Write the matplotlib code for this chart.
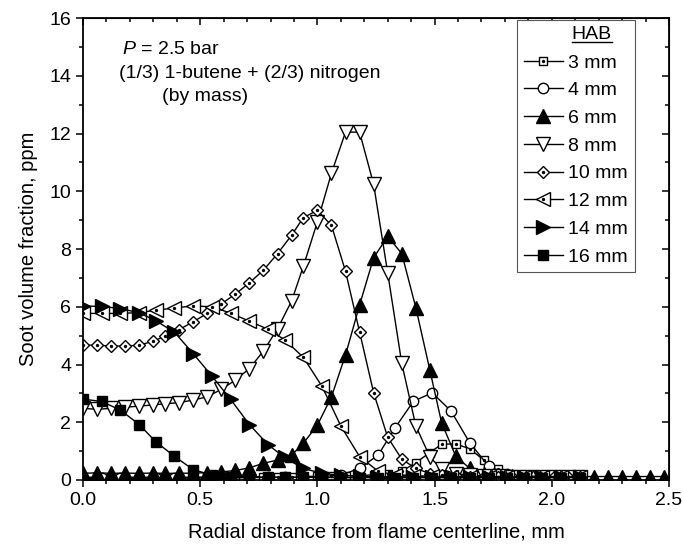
#!/usr/bin/env python3
"""Soot volume fraction radial profiles at several heights above burner (HAB)."""

from __future__ import annotations

import matplotlib

matplotlib.use("Agg")
import matplotlib.pyplot as plt
from matplotlib.lines import Line2D
from matplotlib.ticker import MultipleLocator

r_fine = [
    0.00, 0.06, 0.12, 0.18, 0.24, 0.30, 0.35, 0.41, 0.47, 0.53, 0.59, 0.65, 0.71,
    0.77, 0.83, 0.89, 0.94, 1.00, 1.06, 1.12, 1.18, 1.24, 1.30, 1.36, 1.42, 1.48,
    1.53, 1.59, 1.65, 1.71, 1.77, 1.83, 1.89, 1.95, 2.01, 2.07, 2.12, 2.18, 2.24,
    2.30, 2.36, 2.42, 2.48,
]
r_coarse = [
    0.00, 0.08, 0.16, 0.24, 0.31, 0.39, 0.47, 0.55, 0.63, 0.71, 0.79, 0.86, 0.94,
    1.02, 1.10, 1.18, 1.26, 1.33, 1.41, 1.49, 1.57, 1.65, 1.73, 1.81, 1.88, 1.96,
    2.04, 2.12,
]

# soot volume fraction (ppm)
fv_3mm = [
    0.10, 0.09, 0.10, 0.10, 0.09, 0.10, 0.10, 0.09, 0.10, 0.10, 0.10, 0.11, 0.11,
    0.12, 0.12, 0.12, 0.12, 0.13, 0.13, 0.14, 0.15, 0.18, 0.22, 0.30, 0.60, 0.95,
    1.24, 1.25, 1.08, 0.69, 0.37, 0.18, 0.12, 0.10, 0.10, 0.10, 0.10,
]
fv_4mm = [
    0.06, 0.06, 0.06, 0.06, 0.07, 0.07, 0.07, 0.08, 0.08, 0.08, 0.09, 0.09, 0.10,
    0.12, 0.17, 0.40, 0.87, 1.79, 2.73, 3.02, 2.39, 1.29, 0.48, 0.20, 0.12, 0.10,
    0.08, 0.08,
]
fv_6mm = [
    0.23, 0.25, 0.23, 0.24, 0.23, 0.24, 0.23, 0.23, 0.24, 0.25, 0.28, 0.33, 0.42,
    0.58, 0.69, 0.86, 1.27, 1.90, 2.88, 4.33, 6.06, 7.70, 8.44, 7.84, 5.97, 3.80,
    1.98, 0.83, 0.40, 0.22, 0.15, 0.13, 0.12, 0.12, 0.12, 0.12, 0.12, 0.12, 0.12,
    0.12, 0.12, 0.12, 0.12,
]
fv_8mm = [
    2.48, 2.45, 2.48, 2.52, 2.56, 2.60, 2.64, 2.68, 2.77, 2.88, 3.14, 3.46, 3.86,
    4.47, 5.24, 6.20, 7.40, 8.94, 10.63, 12.05, 12.05, 10.24, 7.17, 4.04, 1.87,
    0.80, 0.37, 0.22, 0.16, 0.14, 0.13, 0.12, 0.12, 0.12, 0.12, 0.12, 0.12,
]
fv_10mm = [
    4.67, 4.67, 4.64, 4.64, 4.67, 4.81, 4.98, 5.21, 5.48, 5.77, 6.10, 6.44, 6.83,
    7.27, 7.84, 8.48, 9.09, 9.34, 8.82, 7.23, 5.13, 3.02, 1.48, 0.72, 0.40, 0.22,
    0.16, 0.14, 0.12, 0.12, 0.12, 0.12, 0.12, 0.12, 0.12, 0.12, 0.12,
]
fv_12mm = [
    5.77, 5.77, 5.77, 5.80, 5.88, 5.96, 6.03, 6.00, 5.78, 5.50, 5.22, 4.86, 4.25,
    3.24, 1.87, 0.81, 0.30, 0.18, 0.15, 0.13, 0.12, 0.12, 0.12, 0.12, 0.12, 0.12,
    0.12, 0.12,
]
fv_14mm = [
    6.03, 6.01, 5.94, 5.79, 5.52, 5.12, 4.38, 3.60, 2.79, 1.92, 1.22, 0.78, 0.40,
    0.23, 0.16, 0.13, 0.12, 0.11, 0.11, 0.10, 0.10, 0.10, 0.10, 0.10, 0.10, 0.10,
    0.10, 0.10,
]
fv_16mm = [
    2.80, 2.72, 2.42, 1.92, 1.33, 0.82, 0.36, 0.17, 0.12, 0.10, 0.10, 0.09, 0.09,
    0.09, 0.08, 0.08, 0.08, 0.08, 0.08, 0.08, 0.08, 0.08, 0.08, 0.08, 0.08, 0.08,
    0.08, 0.08,
]

hab_labels = ["3 mm", "4 mm", "6 mm", "8 mm", "10 mm", "12 mm", "14 mm", "16 mm"]

FONT = "Liberation Sans"
FS = 14


def _draw_series(ax, r, fv, marker, size, filled, dotted):
    x = r[: len(fv)]
    (main,) = ax.plot(
        x, fv, color="black", lw=1.0, marker=marker, markersize=size,
        markerfacecolor="black" if filled else "white",
        markeredgecolor="black", markeredgewidth=1.0,
    )
    if not dotted:
        return main
    (dot,) = ax.plot(x, fv, ls="none", marker="o", markersize=1.4, color="black")
    return (main, dot)


def main() -> None:
    plt.rcParams["font.family"] = FONT
    plt.rcParams["mathtext.fontset"] = "custom"
    plt.rcParams["mathtext.rm"] = FONT
    plt.rcParams["mathtext.it"] = f"{FONT}:italic"

    fig = plt.figure(figsize=(6.83, 5.49), dpi=100)
    ax = fig.add_axes([0.1215, 0.1257, 0.8580, 0.8413])

    series = [
        (r_fine, fv_3mm, "s", 6.0, False, True),
        (r_coarse, fv_4mm, "o", 7.5, False, False),
        (r_fine, fv_6mm, "^", 9.5, True, False),
        (r_fine, fv_8mm, "v", 9.5, False, False),
        (r_fine, fv_10mm, "D", 6.5, False, True),
        (r_coarse, fv_12mm, "<", 9.5, False, True),
        (r_coarse, fv_14mm, ">", 9.5, True, False),
        (r_coarse, fv_16mm, "s", 7.0, True, False),
    ]
    handles = [_draw_series(ax, *s) for s in series]

    ax.set_xlim(0, 2.5)
    ax.set_ylim(0, 16)
    ax.xaxis.set_major_locator(MultipleLocator(0.5))
    ax.xaxis.set_minor_locator(MultipleLocator(0.1))
    ax.yaxis.set_major_locator(MultipleLocator(2))
    ax.yaxis.set_minor_locator(MultipleLocator(1))
    ax.xaxis.set_major_formatter(lambda v, _: f"{v:.1f}")
    ax.tick_params(which="both", direction="out", labelsize=FS, width=1.1)
    ax.tick_params(which="major", length=5)
    ax.tick_params(which="minor", length=3)
    for spine in ax.spines.values():
        spine.set_linewidth(1.3)

    # mirrored ticks on top/right point inwards
    top = ax.secondary_xaxis("top")
    top.xaxis.set_major_locator(MultipleLocator(0.5))
    top.xaxis.set_minor_locator(MultipleLocator(0.1))
    top.tick_params(which="both", direction="in", labeltop=False, width=1.1)
    top.tick_params(which="major", length=5)
    top.tick_params(which="minor", length=3)
    right = ax.secondary_yaxis("right")
    right.yaxis.set_major_locator(MultipleLocator(2))
    right.yaxis.set_minor_locator(MultipleLocator(1))
    right.tick_params(which="both", direction="in", labelright=False, width=1.1)
    right.tick_params(which="major", length=5)
    right.tick_params(which="minor", length=3)

    ax.set_xlabel("Radial distance from flame centerline, mm", fontsize=14.5, labelpad=10)
    ax.set_ylabel("Soot volume fraction, ppm", fontsize=14.5, labelpad=8)

    ax.text(0.066, 0.931, "$P$ = 2.5 bar", transform=ax.transAxes, fontsize=FS, va="center")
    ax.text(0.061, 0.881, "(1/3) 1-butene + (2/3) nitrogen", transform=ax.transAxes,
            fontsize=FS, va="center")
    ax.text(0.208, 0.831, "(by mass)", transform=ax.transAxes, fontsize=FS,
            va="center", ha="center")

    leg = ax.legend(
        handles, hab_labels, title="HAB", loc="upper right",
        bbox_to_anchor=(635 / 683, 1 - 20 / 549), bbox_transform=fig.transFigure,
        borderaxespad=0, fontsize=FS, title_fontsize=FS, fancybox=False,
        edgecolor="#555555", framealpha=1, handlelength=2.0, handletextpad=0.3,
        labelspacing=0.52, borderpad=0.35,
    )
    leg.get_frame().set_linewidth(0.8)

    # the title sits over the label column and is underlined
    fig.canvas.draw()
    renderer = fig.canvas.get_renderer()
    to_fig = fig.transFigure.inverted()
    title_bb = leg.get_title().get_window_extent(renderer).transformed(to_fig)
    label_bb = leg.get_texts()[0].get_window_extent(renderer).transformed(to_fig)
    leg.get_title().set_alpha(0)
    x0 = label_bb.x0 + 0.005
    hab = fig.text(x0, title_bb.y0, "HAB", fontsize=FS, va="baseline")
    hab_bb = hab.get_window_extent(renderer).transformed(to_fig)
    y_line = title_bb.y0 + 0.003
    fig.add_artist(Line2D([hab_bb.x0, hab_bb.x1], [y_line, y_line],
                          transform=fig.transFigure, color="black", lw=1.0))
    hab.set_y(title_bb.y0 + 0.009)

    fig.savefig("out.png", dpi=100)
    plt.close(fig)


if __name__ == "__main__":
    main()
